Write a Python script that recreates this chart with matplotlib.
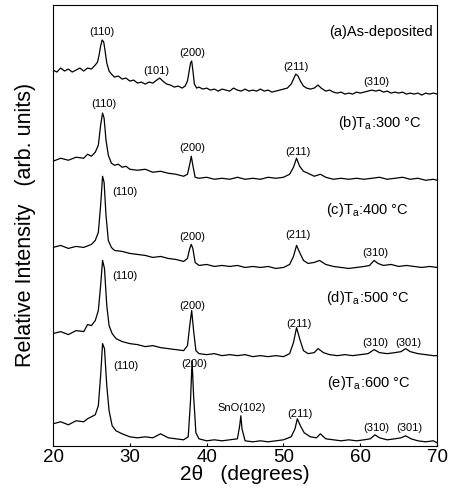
import matplotlib.pyplot as plt

plt.rcParams["font.family"] = ["Liberation Sans", "DejaVu Sans"]

# XRD patterns, stacked with offsets (arb. units)
two_theta_a = [20.0, 20.5, 21.0, 21.5, 22.0, 22.5, 23.0, 23.5, 24.0, 24.5, 25.0, 25.5, 25.8,
               26.0, 26.2, 26.4, 26.6, 26.8, 27.0, 27.3, 27.6, 28.0, 28.5, 29.0, 29.5, 30.0,
               30.5, 31.0, 31.5, 32.0, 32.5, 33.0, 33.5, 33.9, 34.3, 34.8, 35.3, 35.8, 36.3,
               36.8, 37.2, 37.5, 37.7, 37.9, 38.05, 38.2, 38.4, 38.7, 39.0, 39.5, 40.0, 40.5,
               41.0, 41.5, 42.0, 42.5, 43.0, 43.5, 44.0, 44.5, 45.0, 45.5, 46.0, 46.5, 47.0,
               47.5, 48.0, 48.5, 49.0, 49.5, 50.0, 50.5, 51.0, 51.3, 51.6, 51.9, 52.2, 52.6,
               53.0, 53.5, 54.0, 54.5, 54.9, 55.5, 56.0, 56.5, 57.0, 57.5, 58.0, 58.5, 59.0,
               59.5, 60.0, 60.5, 61.0, 61.5, 62.0, 62.5, 63.0, 63.5, 64.0, 64.5, 65.0, 65.5,
               66.0, 66.5, 67.0, 67.5, 68.0, 68.5, 69.0, 69.5, 70.0]
intensity_a = [375, 373, 377, 374, 376, 373, 375, 377, 374, 377, 376, 380, 383,
               390, 399, 405, 403, 393, 382, 374, 371, 368, 369, 366, 367, 364,
               365, 362, 363, 361, 363, 362, 365, 367, 364, 361, 360, 358, 359,
               357, 359, 364, 373, 382, 384, 375, 361, 357, 358, 356, 357, 355,
               356, 354, 356, 355, 354, 357, 355, 354, 356, 354, 355, 354, 356,
               354, 355, 353, 354, 355, 356, 357, 361, 366, 371, 369, 364, 359,
               357, 356, 357, 360, 357, 354, 355, 353, 352, 353, 351, 352, 351,
               353, 352, 353, 354, 355, 354, 355, 353, 354, 352, 353, 352, 353,
               351, 352, 351, 352, 350, 352, 351, 352, 351]

two_theta_b = [20, 21, 22, 23, 24, 24.5, 25, 25.5, 25.9, 26.2, 26.45, 26.65, 26.9, 27.2,
               27.6, 28.0, 28.5, 29.0, 29.5, 30, 31, 32, 33, 34, 35, 36, 37, 37.5, 37.8,
               38.0, 38.2, 38.5, 39, 40, 41, 42, 43, 44, 45, 46, 47, 48, 49, 50, 50.8,
               51.3, 51.7, 52.1, 52.6, 53.2, 54.0, 54.8, 55.5, 56.5, 57.5, 58.5, 59.5,
               60.5, 61.5, 62.5, 63.5, 64.5, 65.5, 66.5, 67.5, 68.5, 69.5, 70.0]
intensity_b = [284, 287, 285, 288, 287, 291, 289, 293, 300, 320, 332, 327, 305, 290,
               282, 280, 281, 278, 279, 276, 275, 276, 273, 274, 272, 271, 269, 271, 281,
               289, 280, 268, 267, 268, 266, 267, 266, 268, 266, 267, 266, 268, 267, 268, 271,
               278, 287, 279, 274, 272, 269, 271, 268, 266, 267, 266, 267,
               266, 267, 268, 266, 267, 268, 266, 267, 265, 266, 265]

two_theta_c = [20, 21, 22, 23, 24, 25, 25.5, 25.9, 26.2, 26.45, 26.65, 26.9, 27.2, 27.6,
               28, 29, 30, 31, 32, 33, 34, 35, 36, 37, 37.5, 37.8, 38.0, 38.2, 38.5, 39,
               40, 41, 42, 43, 44, 45, 46, 47, 48, 49, 50, 50.8, 51.3, 51.7, 52.1, 52.6,
               53.2, 54.0, 54.7, 55.5, 56.5, 57.5, 58.5, 59.5, 60.5, 61.2, 61.8, 62.3,
               63, 64, 65, 66, 67, 68, 69, 70]
intensity_c = [198, 200, 197, 199, 198, 201, 205, 213, 240, 269, 263, 230, 205, 198,
               195, 194, 192, 191, 190, 188, 189, 187, 186, 184, 187, 197, 201, 197, 183, 180,
               181, 179, 180, 179, 180, 178, 179, 178, 179, 177, 178, 181, 189, 200, 193, 185,
               182, 183, 185, 181, 179, 178, 177, 178, 179, 180, 185, 182,
               180, 181, 179, 180, 179, 178, 179, 178]

two_theta_d = [20, 21, 22, 23, 24, 24.5, 25.0, 25.5, 25.9, 26.2, 26.45, 26.7, 27.0, 27.3,
               27.7, 28.2, 29, 30, 31, 32, 33, 34, 35, 36, 37, 37.5, 37.8, 38.05, 38.3,
               38.6, 39, 40, 41, 42, 43, 44, 45, 46, 47, 48, 49, 50, 50.8, 51.3, 51.7,
               52.1, 52.6, 53.2, 54.0, 54.5, 55.2, 56, 57, 58, 59, 60, 61, 61.8, 62.5,
               63.5, 64.5, 65.3, 65.9, 66.5, 67.5, 68.5, 69.5, 70.0]
intensity_d = [112, 114, 111, 115, 114, 121, 120, 125, 135, 160, 185, 177, 140, 120,
               112, 107, 104, 102, 101, 99, 100, 98, 97, 96, 95, 100, 120, 135, 115,
               95, 92, 91, 92, 90, 91, 90, 91, 89, 90, 89, 90, 89, 92, 103, 118,
               107, 95, 92, 93, 97, 93, 91, 90, 91, 90, 91, 92, 96, 93,
               92, 93, 94, 97, 94, 92, 91, 90, 90]

two_theta_e = [20, 21, 22, 23, 24, 24.5, 25.0, 25.5, 25.9, 26.2, 26.45, 26.7, 27.0, 27.3,
               27.7, 28.2, 29, 30, 31, 32, 33, 34, 35, 36, 37, 37.6, 37.9, 38.1, 38.3,
               38.6, 39, 40, 41, 42, 43, 44, 44.3, 44.45, 44.6, 45, 46, 47, 48, 49, 50,
               51, 51.5, 51.8, 52.2, 52.7, 53.5, 54.3, 54.8, 55.5, 56.5, 57.5, 58.5,
               59.5, 60.5, 61.3, 61.9, 62.5, 63.5, 64.5, 65.3, 65.9, 66.6, 67.5, 68.5,
               69.5, 70.0]
intensity_e = [22, 24, 21, 25, 24, 27, 29, 31, 40, 70, 102, 97, 60, 35,
               20, 15, 12, 9, 8, 9, 8, 12, 8, 7, 6, 9, 45, 85, 50,
               13, 7, 5, 6, 5, 6, 7, 20, 30, 17, 5, 4, 5, 4, 5, 6,
               9, 17, 27, 20, 13, 9, 8, 12, 7, 6, 5, 6,
               5, 6, 7, 11, 8, 6, 7, 8, 10, 7, 5, 4,
               5, 3]

# reflection labels: (2theta, height, text)
peak_labels = [
    (26.4, 413, "(110)"), (33.5, 374, "(101)"), (38.1, 392, "(200)"),
    (51.6, 378, "(211)"), (62.1, 363, "(310)"),
    (26.6, 341, "(110)"), (38.1, 297, "(200)"), (51.9, 293, "(211)"),
    (29.3, 253, "(110)"), (38.1, 208, "(200)"), (51.9, 210, "(211)"), (61.9, 192, "(310)"),
    (29.3, 169, "(110)"), (38.1, 140, "(200)"), (52.0, 122, "(211)"),
    (61.9, 103, "(310)"), (66.2, 103, "(301)"),
    (29.5, 80, "(110)"), (38.4, 82, "(200)"), (44.6, 38, "SnO(102)"),
    (52.2, 32, "(211)"), (62.1, 18, "(310)"), (66.4, 18, "(301)"),
]

# sample conditions, right-aligned at (2theta, height)
sample_labels = [
    (69.4, 413, "(a)As-deposited"),
    (68.0, 322, r"(b)T$_\mathregular{a}$:300 °C"),
    (66.3, 235, r"(c)T$_\mathregular{a}$:400 °C"),
    (66.4, 148, r"(d)T$_\mathregular{a}$:500 °C"),
    (66.5, 63, r"(e)T$_\mathregular{a}$:600 °C"),
]

fig = plt.figure(figsize=(4.53, 4.91), dpi=100)
ax = fig.add_axes([0.117, 0.092, 0.848, 0.898])

traces = [(two_theta_a, intensity_a), (two_theta_b, intensity_b), (two_theta_c, intensity_c),
          (two_theta_d, intensity_d), (two_theta_e, intensity_e)]
for tt, inten in traces:
    ax.plot(tt, inten, color="black", lw=0.9)

for x, y, s in peak_labels:
    ax.text(x, y, s, ha="center", va="center", fontsize=8)
for x, y, s in sample_labels:
    ax.text(x, y, s, ha="right", va="center", fontsize=10.5)

ax.set_xlim(20, 70)
ax.set_ylim(0, 440)
ax.set_xticks([20, 30, 40, 50, 60, 70])
ax.set_yticks([])
ax.tick_params(axis="x", direction="in", length=2, labelsize=13.5, pad=2.5)
ax.set_xlabel("2θ   (degrees)", fontsize=15)
ax.xaxis.set_label_coords(0.5, -0.043)
ax.set_ylabel("Relative Intensity   (arb. units)", fontsize=15.5, labelpad=12)

fig.savefig("out.png", dpi=100)
